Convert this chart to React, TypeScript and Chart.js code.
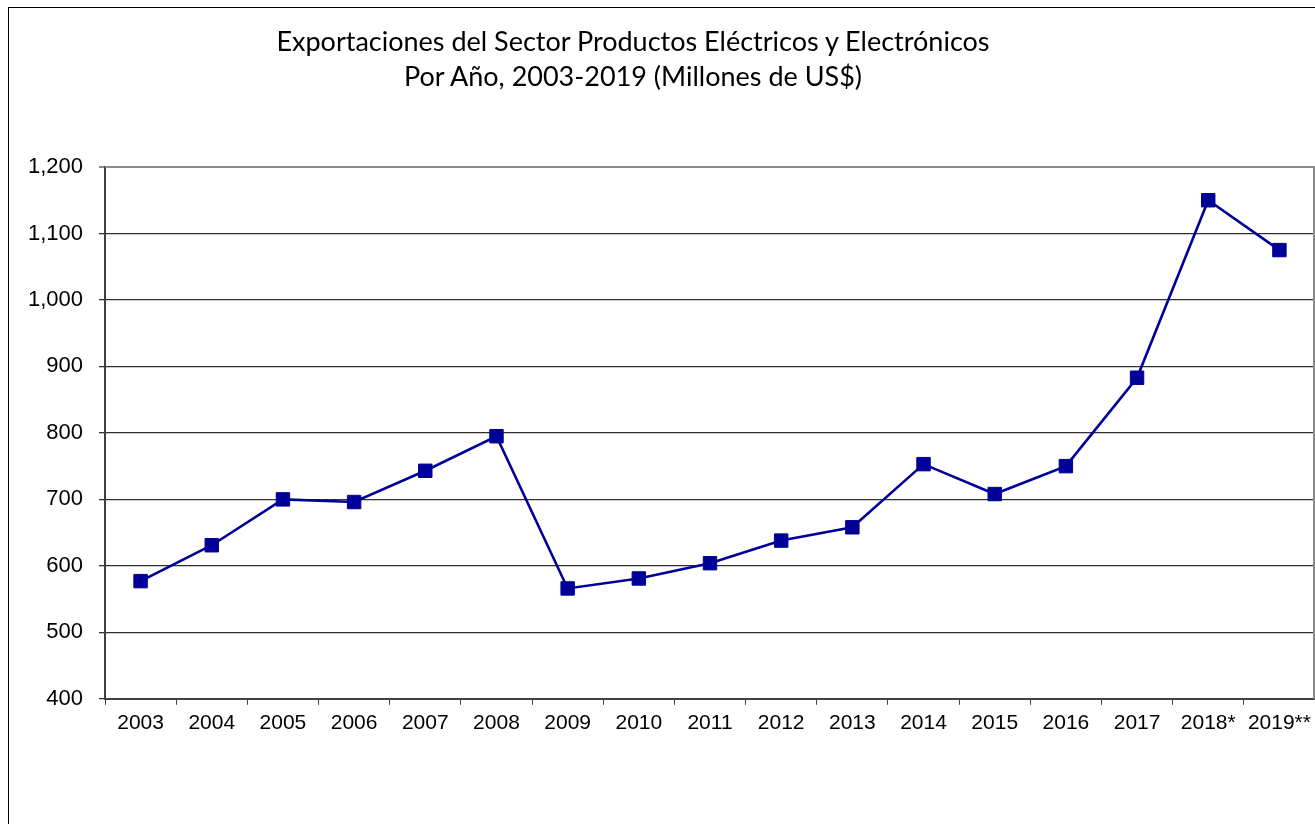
import React, { useEffect, useRef } from "react";
import { Chart, registerables } from "chart.js";

Chart.register(...registerables);

const categories = [
  "2003", "2004", "2005", "2006", "2007", "2008", "2009", "2010", "2011",
  "2012", "2013", "2014", "2015", "2016", "2017", "2018*", "2019**",
];
const exportValues = [
  577, 631, 700, 696, 743, 795, 566, 581, 604, 638, 658, 753, 708, 750, 883, 1150, 1075,
];
const titleLines = [
  "Exportaciones del Sector Productos Eléctricos y Electrónicos",
  "Por Año, 2003-2019 (Millones de US$)",
];
const yMin = 400;
const yMax = 1200;
const yStep = 100;

const framePlugin = {
  id: "frame",
  afterDatasetsDraw(chart: any) {
    const { ctx, chartArea } = chart;
    ctx.save();
    ctx.strokeStyle = "#8a8a8a";
    ctx.lineWidth = 2;
    ctx.beginPath();
    ctx.moveTo(chartArea.left, chartArea.top);
    ctx.lineTo(chartArea.right - 1, chartArea.top);
    ctx.lineTo(chartArea.right - 1, chartArea.bottom);
    ctx.stroke();
    ctx.restore();
  },
};

export default function App() {
  const canvasRef = useRef<HTMLCanvasElement | null>(null);

  useEffect(() => {
    if (!canvasRef.current) return;
    const chart = new Chart(canvasRef.current, {
      type: "line",
      data: {
        labels: categories,
        datasets: [
          {
            data: exportValues,
            borderColor: "#000099",
            backgroundColor: "#000099",
            borderWidth: 2.6,
            pointStyle: "rect",
            pointRadius: 9.5,
            pointBorderWidth: 1,
            pointBorderColor: "#000099",
            pointBackgroundColor: "#000099",
            tension: 0,
            clip: false as any,
          },
        ],
      },
      plugins: [framePlugin],
      options: {
        responsive: false,
        animation: false,
        events: [],
        layout: { autoPadding: false, padding: { left: 0, top: 159, right: 0, bottom: 82 } },
        plugins: {
          legend: { display: false },
          title: { display: false },
          tooltip: { enabled: false },
        },
        scales: {
          x: {
            type: "category",
            offset: true,
            afterFit(scale: any) {
              scale.paddingLeft = 0;
              scale.paddingRight = 0;
            },
            grid: {
              offset: true,
              drawOnChartArea: false,
              drawTicks: true,
              tickLength: 6,
              color: "#404040",
              lineWidth: 1,
            },
            border: { display: true, color: "#404040", width: 2 },
            ticks: {
              color: "#000",
              padding: 6,
              maxRotation: 0,
              autoSkip: false,
              font: { family: "'Liberation Sans', Arial, sans-serif", size: 21 },
            },
          },
          y: {
            min: yMin,
            max: yMax,
            afterFit(scale: any) {
              scale.width = 96;
            },
            grid: {
              color: (c: any) => (c.tick && c.tick.value === yMax ? "#8a8a8a" : "#303030"),
              lineWidth: (c: any) => (c.tick && c.tick.value === yMax ? 2 : 1.3),
              tickLength: 6,
              drawTicks: true,
            },
            border: { display: true, color: "#404040", width: 2 },
            ticks: {
              stepSize: yStep,
              color: "#000",
              padding: 16,
              font: { family: "'Liberation Sans', Arial, sans-serif", size: 22 },
              callback: (v: any) => Number(v).toLocaleString("en-US"),
            },
          },
        },
      },
    });
    return () => chart.destroy();
  }, []);

  return (
    <div
      style={{
        position: "absolute",
        left: 8,
        top: 7,
        width: 1307,
        height: 817,
        borderLeft: "1px solid #000",
        borderTop: "1px solid #000",
        boxSizing: "border-box",
        background: "#fff",
        overflow: "hidden",
      }}
    >
      <div
        style={{
          position: "absolute",
          left: 0,
          width: 1248,
          top: 15,
          textAlign: "center",
          fontFamily: "Lato, 'Open Sans', sans-serif",
          fontSize: 27,
          lineHeight: "35px",
          color: "#000",
        }}
      >
        {titleLines.map((l, i) => (
          <div key={i}>{l}</div>
        ))}
      </div>
      <canvas ref={canvasRef} width={1306} height={816} style={{ display: "block" }} />
    </div>
  );
}
